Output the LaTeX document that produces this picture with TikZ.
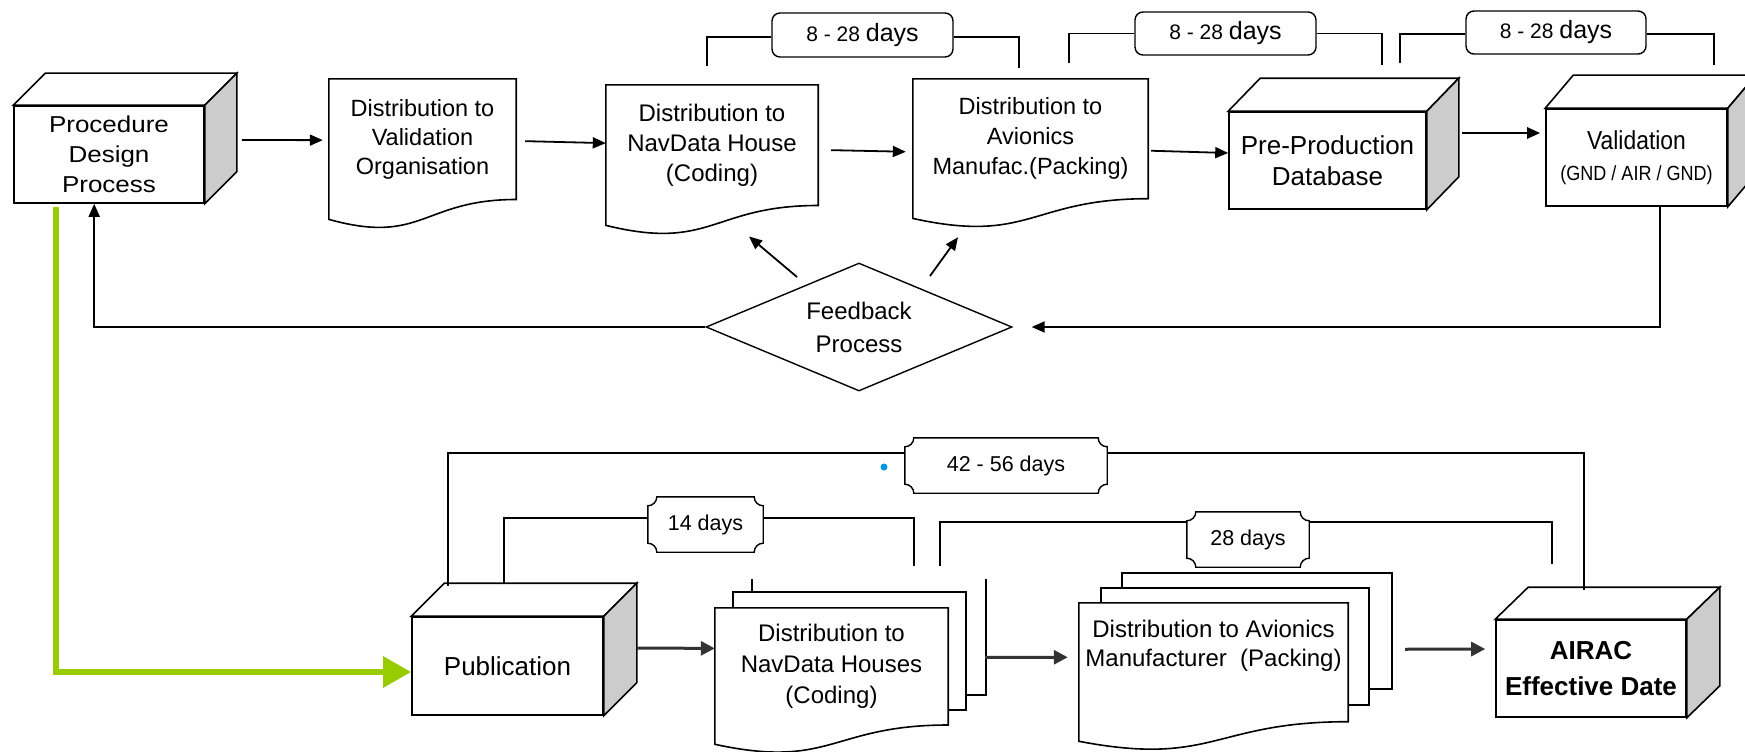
\documentclass[tikz,border=0pt]{standalone}
\usepackage{fontspec}
\setmainfont{Liberation Sans}
\newfontfamily\condfont[FakeStretch=0.88]{Liberation Sans}
\newfontfamily\widefont[FakeStretch=1.13]{Liberation Sans}
\usetikzlibrary{arrows.meta,calc,shapes.geometric}
\pgfdeclarelayer{bg}
\pgfsetlayers{bg,main}
\definecolor{sidegray}{RGB}{204,204,204}
\definecolor{pubgreen}{RGB}{153,204,0}
\definecolor{dotblue}{RGB}{0,150,220}
\definecolor{arrgray}{RGB}{51,51,51}
\newcommand\docoutline[1]{%
  \draw[shp, fill=white] (#1.north west) -- (#1.north east) -- (#1.south east)
    .. controls (#1.south) and ($(#1.north)!1.381!(#1.south)$) ..
    ($(#1.north west)!1.1646!(#1.south west)$) -- cycle;}
\newcommand\cubefaces[3]{%
  \draw[shp, fill=white] (#1.north west) -- ++(#2,-#3) -- ($(#1.north east)+(#2,-#3)$) -- (#1.north east) -- cycle;
  \draw[shp, fill=sidegray] (#1.north east) -- ++(#2,-#3) -- ($(#1.south east)+(#2,-#3)$) -- (#1.south east) -- cycle;}
\newcommand\plaque[1]{%
  \draw[brk, fill=white] ([xshift=9pt]#1.north west) -- ([xshift=-9pt]#1.north east)
    arc[start angle=180,end angle=270,radius=9pt] -- ([yshift=9pt]#1.south east)
    arc[start angle=90,end angle=180,radius=9pt] -- ([xshift=9pt]#1.south west)
    arc[start angle=0,end angle=90,radius=9pt] -- ([yshift=-9pt]#1.north west)
    arc[start angle=270,end angle=360,radius=9pt] -- cycle;}
\begin{document}
\begin{tikzpicture}[x=1pt,y=-1pt,
  shp/.style={draw=black, line width=1.6pt},
  cube/.style={draw=black, line width=1.6pt, fill=white, inner sep=0pt, align=center},
  docnode/.style={inner sep=0pt, align=center},
  arr/.style={draw=black, line width=1.8pt, -{Triangle[length=13pt,width=11pt]}},
  arrb/.style={draw=arrgray, line width=3pt, -{Triangle[length=14pt,width=14pt]}},
  brk/.style={draw=black, line width=1.4pt},
  tag/.style={draw=black, line width=1.4pt, rounded corners=8pt, inner sep=0pt},
  plq/.style={inner sep=0pt, font=\fontsize{21.5}{26}\selectfont},
]
\begin{pgfonlayer}{bg}
\fill[white] (0,0) rectangle (1745,752);
\end{pgfonlayer}
\useasboundingbox (0,0) rectangle (1745,752);

% ---------- cubes ----------
\node[cube, minimum width=190pt, minimum height=97pt, font=\widefont\fontsize{23}{30}\selectfont] (proc) at (109,154.5) {Procedure\\Design\\Process};
\node[cube, minimum width=197pt, minimum height=97pt, font=\fontsize{26}{31}\selectfont] (pp) at (1327.5,160.5) {Pre-Production\\Database};
\node[cube, minimum width=181pt, minimum height=97pt, font=\condfont\fontsize{26}{31}\selectfont] (val) at (1636.5,157.5) {Validation\\{\fontsize{20.5}{31}\selectfont (GND / AIR / GND)}};
\node[cube, minimum width=191pt, minimum height=98pt, font=\fontsize{26}{30}\selectfont] (pub) at (507.5,666) {Publication};
\node[cube, minimum width=190pt, minimum height=97pt, font=\bfseries\fontsize{26}{36}\selectfont] (airac) at (1591,668.5) {AIRAC\\Effective Date};
\cubefaces{proc}{32}{32}
\cubefaces{pp}{32}{33}
\cubefaces{val}{28}{33}
\cubefaces{pub}{33}{33}
\cubefaces{airac}{33}{32}

% ---------- documents ----------
\node[docnode, minimum width=187pt, minimum height=120.3pt, font=\fontsize{23.5}{29}\selectfont] (valdoc) at (422.5,139.15) {Distribution to\\Validation\\Organisation};
\node[docnode, minimum width=212pt, minimum height=120.3pt, font=\fontsize{24}{30}\selectfont] (navdoc) at (712,145.15) {Distribution to\\NavData House\\(Coding)};
\node[docnode, minimum width=235pt, minimum height=119.5pt, font=\fontsize{23.5}{30}\selectfont] (avdoc) at (1030.5,138.75) {Distribution to\\Avionics\\Manufac.(Packing)};
\node[docnode, minimum width=233pt, minimum height=116.8pt, font=\fontsize{24}{31}\selectfont] (nh) at (831.5,666.4) {Distribution to\\NavData Houses\\(Coding)};
\node[docnode, minimum width=269pt, minimum height=118.5pt] (avs) at (1213.5,662.25) {};
\node[align=center, font=\fontsize{24}{29}\selectfont] (avstext) at ([yshift=16pt]avs.center) {Distribution to Avionics\\Manufacturer\ \ (Packing)};

\begin{pgfonlayer}{bg}
\docoutline{valdoc}
\docoutline{navdoc}
\docoutline{avdoc}
\draw[shp] (752,592) -- (752,579);
\draw[shp] (986,579) -- (986,695) -- (966,695);
\draw[shp, fill=white] (733,592) rectangle (966,710);
\docoutline{nh}
\draw[shp, fill=white] (1122,573) rectangle (1392,689);
\draw[shp, fill=white] (1101,588) rectangle (1369,705);
\docoutline{avs}
\end{pgfonlayer}

% ---------- feedback ----------
\node[diamond, draw=black, line width=1.4pt, aspect=2.39, minimum width=306pt, minimum height=128pt, inner sep=0pt, align=center, font=\fontsize{24}{33}\selectfont] (fb) at (859,327) {Feedback\\Process};

% ---------- duration tags ----------
\node[tag, minimum width=181pt, minimum height=44pt] (t1) at (862.5,35) {\fontsize{21}{25}\selectfont 8 - 28 {\fontsize{25}{28}\selectfont days}};
\node[tag, minimum width=181pt, minimum height=43pt] (t2) at (1225.5,33.5) {\fontsize{21}{25}\selectfont 8 - 28 {\fontsize{25}{28}\selectfont days}};
\node[tag, minimum width=180pt, minimum height=43pt] (t3) at (1556,32.5) {\fontsize{21}{25}\selectfont 8 - 28 {\fontsize{25}{28}\selectfont days}};

\node[plq, minimum width=202pt, minimum height=55pt] (p1) at (1006,465.5) {42 - 56 days};
\node[plq, minimum width=115pt, minimum height=55pt] (p2) at (705.5,524.5) {14 days};
\node[plq, minimum width=122pt, minimum height=55pt] (p3) at (1248,539.5) {28 days};
\begin{pgfonlayer}{bg}
\plaque{p1}
\plaque{p2}
\plaque{p3}
\end{pgfonlayer}

\node[circle, fill=dotblue, inner sep=0pt, minimum size=7pt] (dot) at (884,467) {};

% ---------- bracket lines ----------
\coordinate (b1l) at (707,66);  \coordinate (b1r) at (1019,68);
\coordinate (b2l) at (1069,63); \coordinate (b2r) at (1382,65);
\coordinate (b3l) at (1400,63); \coordinate (b3r) at (1714,65);
\draw[brk] (b1l) |- ([yshift=-2pt]t1.west);
\draw[brk] ([yshift=-2pt]t1.east) -| (b1r);
\draw[brk] (b2l) |- (t2.west);
\draw[brk] (t2.east) -| (b2r);
\draw[brk] (b3l) |- ([yshift=-1.5pt]t3.west);
\draw[brk] ([yshift=-1.5pt]t3.east) -| (b3r);

\coordinate (q1l) at (448,586); \coordinate (q1r) at (1584,590);
\coordinate (q2l) at (504,584); \coordinate (q2r) at (914,566);
\coordinate (q3l) at (940,566); \coordinate (q3r) at (1552,564);
\draw[brk] (q1l) |- ([yshift=12.5pt]p1.west);
\draw[brk] ([yshift=12.5pt]p1.east) -| (q1r);
\draw[brk] (q2l) |- ([yshift=6.5pt]p2.west);
\draw[brk] ([yshift=6.5pt]p2.east) -| (q2r);
\draw[brk] (q3l) |- ([yshift=17.5pt]p3.west);
\draw[brk] ([yshift=17.5pt]p3.east) -| (q3r);

% ---------- top row arrows ----------
\draw[arr] ([shift={(37,-14.5)}]proc.east) -- ([shift={(-6,1)}]valdoc.west);
\draw[arr] ([shift={(9,2)}]valdoc.east) -- ([shift={(0,-2)}]navdoc.west);
\draw[arr] ([shift={(13,5)}]navdoc.east) -- ([shift={(-7,13)}]avdoc.west);
\draw[arr] ([shift={(3,12)}]avdoc.east) -- ([shift={(0,-7.5)}]pp.west);
\draw[arr, line width=2.6pt] ([shift={(35,-27.5)}]pp.east) -- ([shift={(-5,-24.5)}]val.west);

% ---------- feedback arrows ----------
\draw[arr] ([xshift=23.5pt]val.south) |- ([xshift=19pt]fb.east);
\draw[arr] (fb.west) -| ([xshift=81pt]proc.south west);
\draw[arr] ([shift={(-62,-50)}]fb.center) -- ([shift={(37,31)}]navdoc.south);
\draw[arr] ([shift={(71,-51)}]fb.center) -- ([shift={(-72.5,38.5)}]avdoc.south);

% ---------- bottom row ----------
\draw[line width=6pt, draw=pubgreen, -{Triangle[length=28pt,width=30pt]}] ([shift={(43,3)}]proc.south west) |- ([yshift=-6pt]pub.west);
\draw[arrb] ([shift={(33,-18)}]pub.east) -- ([yshift=18pt]nh.west);
\draw[arrb] ([shift={(37,-9)}]nh.east) -- ([shift={(-11,-5)}]avs.west);
\draw[arrb] ([shift={(57,-13)}]avs.east) -- ([shift={(-10,-19.5)}]airac.west);
\end{tikzpicture}
\end{document}
